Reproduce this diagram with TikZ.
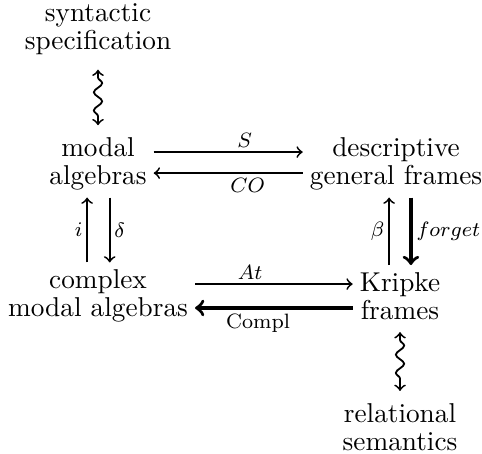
\documentclass[tikz,border=0pt]{standalone}
\usepackage{tikz}
\usetikzlibrary{decorations.pathmorphing}

\begin{document}
\begin{tikzpicture}[x = 0.385pt, y = -0.385pt, line width = 0.7pt,
    obj/.style = {align = center, inner sep = 2.4pt, font = \fontsize{10.5}{10.9}\selectfont},
    lab/.style = {font = \footnotesize, inner sep = 1.5pt},
    thick arrow/.style = {line width = 1.3pt},
    wave/.style = {<->, decorate, decoration = {snake, amplitude = 1.6pt,
        segment length = 7pt, pre length = 3pt, post length = 3pt}}]
\useasboundingbox (0,0) rectangle (482,453);
\draw (98,29) node[obj](ss){syntactic\\specification}
    (98,164) node[obj](ma){modal\\algebras}
    (396,164) node[obj](dg){descriptive\\general frames}
    (98,296) node[obj](ca){complex\\modal algebras}
    (400,296) node[obj](kf){Kripke\\frames}
    (400,427) node[obj](rs){relational\\semantics};
    \draw [wave] ([yshift=-3pt]ss.south) -- ([yshift=2pt]ma.north);
    \draw [wave] ([yshift=-2pt]kf.south) -- ([yshift=2pt]rs.north);
    \draw [->] ([yshift=4.6pt]ma.east) -- ([yshift=4.6pt]ma.east -| dg.west) node[pos=0.61,lab,above] {$S$};
    \draw [->] ([yshift=-3.5pt]ma.east -| dg.west) -- ([yshift=-3.5pt]ma.east) node[pos=0.37,lab,below] {$CO$};
    \draw [->] ([yshift=4.6pt]ca.east) -- ([yshift=4.6pt]ca.east -| kf.west) node[pos=0.35,lab,above] {$At$};
    \draw [->, thick arrow] ([yshift=-4.6pt]ca.east -| kf.west) -- ([yshift=-4.6pt]ca.east) node[pos=0.6,lab,below] {Compl};
    \draw [->] ([xshift=-4.2pt]ca.north) -- ([xshift=-4.2pt]ma.south) node[midway,lab,left] {$i$};
    \draw [->] ([xshift=4.5pt]ma.south) -- ([xshift=4.5pt]ca.north) node[midway,lab,right] {$\delta$};
    \draw [->] ([xshift=-4.2pt]kf.north) -- ([xshift=-4.2pt]kf.north |- dg.south) node[midway,lab,left] {$\beta$};
    \draw [->, thick arrow] ([xshift=4.2pt]kf.north |- dg.south) -- ([xshift=4.2pt]kf.north) node[midway,lab,right] {$forget$};
\end{tikzpicture}
\end{document}
